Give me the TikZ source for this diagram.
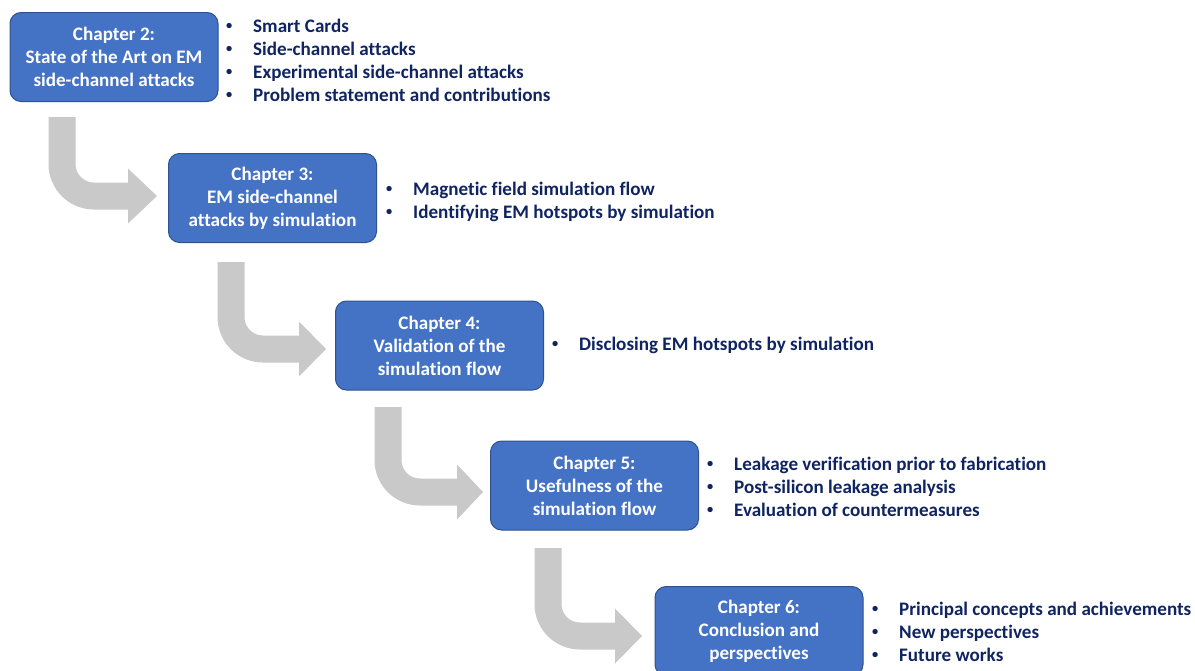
\documentclass[tikz,border=0pt]{standalone}
\usepackage{fontspec}
\setmainfont{Carlito}[Ligatures=NoCommon]
\usetikzlibrary{calc}

\definecolor{boxfill}{HTML}{4472C4}
\definecolor{boxline}{HTML}{2F528F}
\definecolor{navy}{HTML}{0F2460}
\definecolor{arrowgrey}{HTML}{C9C9C9}

% one bullet line of a chapter summary
\newcommand{\bitem}[1]{\makebox[10pt][c]{\raisebox{2.2pt}{\scalebox{0.65}{•}}}\hspace{19pt}#1}

\tikzset{
  basefont/.style={font=\fontsize{19.1}{23}\selectfont\bfseries},
  chapter/.style={basefont, draw=boxline, line width=1pt, fill=boxfill,
    rounded corners=11pt, text=white, align=center,
    minimum width=208pt, minimum height=89pt, inner sep=2pt},
  summary/.style={basefont, text=navy, anchor=west, inner sep=0pt},
  bendbody/.style={draw=arrowgrey, line width=27pt, rounded corners=32pt},
  bendhead/.style={fill=arrowgrey},
}

\begin{document}
\begin{tikzpicture}[x=1pt, y=-1pt]
\useasboundingbox (0,0) rectangle (1195,670);

% chapter boxes
\node[chapter] (b1) at (114,57)    {Chapter 2:\\State of the Art on EM\\side-channel attacks};
\node[chapter] (b2) at (272.5,198) {Chapter 3:\\EM side-channel\\attacks by simulation};
\node[chapter] (b3) at (439.5,345.5) {Chapter 4:\\Validation of the\\simulation flow};
\node[chapter] (b4) at (594.5,485.5) {Chapter 5:\\Usefulness of the\\simulation flow};
\node[chapter] (b5) at (759,631)   {Chapter 6:\\Conclusion and\\perspectives};

% bullet lists beside each box
\node[summary] (l1) at (224,62) {\begin{tabular}{@{}l@{}}
  \bitem{Smart Cards}\\
  \bitem{Side-channel attacks}\\
  \bitem{Experimental side-channel attacks}\\
  \bitem{Problem statement and contributions}
\end{tabular}};
\node[summary] (l2) at (384,202) {\begin{tabular}{@{}l@{}}
  \bitem{Magnetic field simulation flow}\\
  \bitem{Identifying EM hotspots by simulation}
\end{tabular}};
\node[summary] (l3) at (550,345.5) {\begin{tabular}{@{}l@{}}
  \bitem{Disclosing EM hotspots by simulation}
\end{tabular}};
\node[summary] (l4) at (705,488.5) {\begin{tabular}{@{}l@{}}
  \bitem{Leakage verification prior to fabrication}\\
  \bitem{Post-silicon leakage analysis}\\
  \bitem{Evaluation of countermeasures}
\end{tabular}};
\node[summary] (l5) at (870,633.5) {\begin{tabular}{@{}l@{}}
  \bitem{Principal concepts and achievements}\\
  \bitem{New perspectives}\\
  \bitem{Future works}
\end{tabular}};

% grey bent arrows leading from one chapter to the next
\foreach \i/\sx/\sy/\hx/\hy/\tx in {1/62/117/128/196/157, 2/231/262/299/349/326,
    3/388/407/457/492/483, 4/548/548/615/636/642} {
  \coordinate (s\i) at (\sx,\sy);
  \coordinate (h\i) at (\hx,\hy);
  \coordinate (t\i) at (\tx,\hy);
  \draw[bendbody] (s\i) |- (h\i);
  \fill[bendhead] ($(h\i)+(0,-27.5)$) -- (t\i) -- ($(h\i)+(0,27.5)$) -- cycle;
}
\end{tikzpicture}
\end{document}
